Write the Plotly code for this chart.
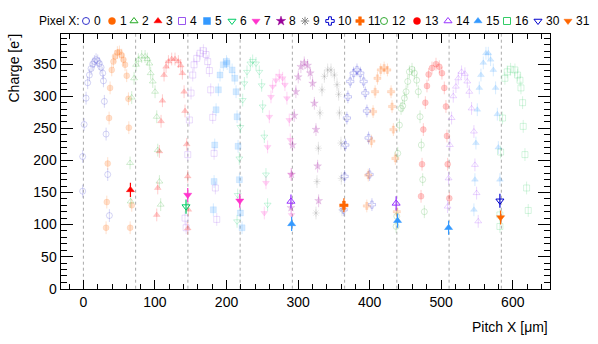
import plotly.graph_objects as go

W, H = 598, 344

# ---------------- data ----------------
pixel_names = ["0", "1", "2", "3", "4", "5", "6", "7", "8", "9",
               "10", "11", "12", "13", "14", "15", "16", "30", "31"]

x_p0 = [-1, -1, 1, 3.7, 6, 8.4, 10.7, 13, 15.4, 17.7, 20, 22.4, 24.7, 27, 28, 29.3, 31.7, 34, 36.3]
y_p0 = [152, 206, 256, 297, 321, 333, 343, 350, 354, 357, 355, 351, 345, 336, 324, 292, 241, 178, 114]
x_p1 = [31.7, 32.7, 34, 35.9, 37.3, 39.6, 42, 44.2, 47.5, 50.3, 53.6, 55.9, 58.2, 60.5, 62.9, 63.5, 65.3, 67.6]
y_p1 = [95, 135, 195, 266, 313, 341, 354, 362, 368, 369, 364, 357, 349, 332, 296, 251, 95, 130]
x_p2 = [65.2, 66, 67.5, 70.8, 73.6, 76.8, 81.5, 86.2, 89.4, 92.2, 94, 96.9, 100.1, 102.5, 103.9, 106.2, 108]
y_p2 = [196, 136, 298, 328, 349, 357, 362, 362, 358, 351, 336, 323, 307, 268, 216, 167, 131]
x_p3 = [102.5, 103.9, 106.2, 108.5, 110.4, 112.7, 115.5, 118.8, 123.4, 128, 132.7, 136, 138.3, 140.7, 142, 144.4, 145.8, 146.7, 145.8]
y_p3 = [115, 157, 214, 261, 293, 333, 346, 354, 358, 358, 354, 348, 336, 307, 277, 225, 175, 123, 94]
x_p4 = [142, 143.5, 145.8, 148.1, 150.4, 152.8, 154.6, 158.4, 163, 167.7, 171.4, 173.7, 176, 177.9, 180.7, 182.6, 184.4, 186.3]
y_p4 = [110, 95, 209, 263, 305, 333, 349, 359, 367, 371, 365, 354, 340, 310, 267, 211, 157, 108]
x_p5 = [181.6, 182.6, 183.5, 185.4, 188.6, 190.9, 195.6, 200, 200.8, 207.8, 211.5, 213.3, 214.7, 216.1, 218, 219.4, 221.7]
y_p5 = [123, 167, 224, 279, 310, 333, 349, 354, 351, 341, 328, 307, 268, 222, 170, 118, 95]
x_p6 = [214.7, 215.6, 217.9, 219.3, 222.6, 224.9, 228.6, 233.3, 236.5, 241.2, 245.8, 249.1, 250.5, 252.8, 255.1, 257.4]
y_p6 = [105, 146, 203, 252, 294, 320, 338, 351, 355, 351, 338, 317, 284, 237, 178, 131]
x_p7 = [252.8, 255.1, 257.4, 259.8, 262.1, 264.4, 269, 273.7, 278.4, 281.6, 284.4, 287.7, 289.1, 290, 290.9]
y_p7 = [118, 165, 221, 268, 299, 315, 325, 332, 328, 318, 297, 263, 232, 178, 115]
x_p8 = [290, 290.9, 292.3, 294.6, 296.9, 300.2, 303.9, 308.6, 313.3, 317, 320.3, 322.7, 325, 327.3, 328.7]
y_p8 = [126, 178, 224, 270, 307, 330, 346, 352, 348, 336, 320, 289, 248, 191, 137]
x_p9 = [325, 326.4, 328.3, 330.6, 333.4, 336.7, 341.3, 346, 350.7, 354.4, 356.7, 357.7, 359.9, 360.4, 361.3]
y_p9 = [118, 167, 219, 274, 310, 331, 341, 341, 333, 318, 303, 274, 227, 172, 123]
x_p10 = [363.6, 365, 366, 368.2, 369.6, 372.9, 377.6, 382.3, 386.9, 391.6, 393.9, 396.2, 398.5, 399.9, 403.2]
y_p10 = [123, 175, 224, 266, 299, 323, 336, 341, 336, 323, 305, 277, 235, 178, 131]
x_p11 = [396, 398, 402.5, 404.8, 407.6, 410.9, 415.5, 420.2, 424.8, 429.9, 431.3, 433.1, 435.9, 438]
y_p11 = [129, 177, 230, 276, 307, 328, 341, 344, 341, 307, 284, 248, 203, 120]
x_p12 = [436.9, 437.9, 439.3, 441.6, 443.9, 446.2, 448.6, 450.9, 453.2, 455.5, 459.2, 462.5, 465.7, 468, 470.4, 472.2, 474.1, 476.4]
y_p12 = [97, 113, 211, 255, 281, 285, 297, 307, 323, 338, 342, 336, 325, 307, 268, 224, 170, 120]
x_p13 = [471.8, 473.2, 475, 477.8, 480.1, 482.4, 487.1, 492.7, 497.3, 501, 504.3, 506.6, 508, 509, 511.3]
y_p13 = [144, 194, 248, 290, 316, 334, 344, 350, 346, 336, 313, 284, 238, 194, 141]
x_p14 = [508.9, 510.3, 512.1, 514.5, 516.8, 520.5, 523.8, 528.4, 533.1, 536.4, 539.2, 542.4, 545.7, 547.1, 549.4, 551.7]
y_p14 = [128, 172, 224, 266, 300, 315, 328, 338, 335, 323, 307, 281, 245, 193, 149, 105]
x_p15 = [545.7, 547.1, 548.5, 550.4, 553.2, 555.5, 558.8, 562.5, 565.8, 569, 572.8, 576, 578.4, 579.8, 582]
y_p15 = [123, 170, 227, 279, 313, 333, 352, 367, 367, 357, 341, 313, 272, 220, 170]
x_p16 = [582, 582, 583, 585.7, 589, 592.2, 596.9, 603, 606.7, 610, 611.4, 613.7, 614.6, 617, 619.3, 621.6]
y_p16 = [97, 115, 213, 266, 328, 338, 342, 341, 333, 325, 313, 290, 253, 209, 157, 122]
x_p30 = []
y_p30 = []
x_p31 = []
y_p31 = []

# highlighted (edge) points, drawn opaque
xs_p3, ys_p3 = [65.7], [154]
xs_p6, ys_p6 = [143.4], [128]
xs_p7, ys_p7 = [145.8, 218.5], [146, 137]
xs_p11, ys_p11 = [364], [130]
xs_p14, ys_p14 = [290, 437], [136, 133]
xs_p15, ys_p15 = [291, 439, 510.3], [101, 106, 95]
xs_p30, ys_p30 = [582], [137]
xs_p31, ys_p31 = [583], [111]

pixel_edges = [0, 73, 146, 219, 292, 365, 438, 511, 584]

# ---------------- styles ----------------
colors = ["#3333cc", "#ff6600", "#22aa22", "#ff0000", "#9955ee", "#3399ff", "#00cc66",
          "#ff33cc", "#990099", "#888888", "#0000cc", "#ff6600", "#33aa33", "#ff0000",
          "#9933ff", "#3399ff", "#33cc66", "#0000cc", "#ff6600"]
symbols = ["circle-open", "circle", "triangle-up-open", "triangle-up", "square-open", "square",
           "triangle-down-open", "triangle-down", "star", "asterisk-open", "cross-open", "cross",
           "circle-open", "circle", "triangle-up-open", "triangle-up", "square-open",
           "triangle-down-open", "triangle-down"]
legend_marker_px = [86, 112, 134, 158, 182, 207, 232, 256, 281, 305, 330, 360, 384, 417, 448, 478, 507, 538, 568]

faint_x = [x_p0, x_p1, x_p2, x_p3, x_p4, x_p5, x_p6, x_p7, x_p8, x_p9, x_p10, x_p11, x_p12, x_p13,
           x_p14, x_p15, x_p16, x_p30, x_p31]
faint_y = [y_p0, y_p1, y_p2, y_p3, y_p4, y_p5, y_p6, y_p7, y_p8, y_p9, y_p10, y_p11, y_p12, y_p13,
           y_p14, y_p15, y_p16, y_p30, y_p31]
solid = {"3": (xs_p3, ys_p3), "6": (xs_p6, ys_p6), "7": (xs_p7, ys_p7), "11": (xs_p11, ys_p11),
         "14": (xs_p14, ys_p14), "15": (xs_p15, ys_p15), "30": (xs_p30, ys_p30), "31": (xs_p31, ys_p31)}


def rgba(h, a):
    h = h.lstrip("#")
    r, g, b = int(h[0:2], 16), int(h[2:4], 16), int(h[4:6], 16)
    return f"rgba({r},{g},{b},{a})"


def marker(sym, col, size):
    if sym.endswith("-open"):
        return dict(symbol=sym, size=size, color=col, line=dict(color=col, width=1))
    return dict(symbol=sym, size=size, color=col, line=dict(color=col, width=0.5))


FONT = "Liberation Sans, Arial, Helvetica, sans-serif"
fig = go.Figure()

for i, name in enumerate(pixel_names):
    c = rgba(colors[i], 0.2)
    if faint_x[i]:
        fig.add_trace(go.Scatter(
            x=faint_x[i], y=faint_y[i], mode="markers",
            marker=marker(symbols[i], c, 6),
            error_y=dict(type="constant", value=10, color=c, thickness=1, width=0),
            showlegend=False, hoverinfo="skip"))

for i, name in enumerate(pixel_names):
    if name in solid:
        sx, sy = solid[name]
        fig.add_trace(go.Scatter(
            x=sx, y=sy, mode="markers",
            marker=marker(symbols[i], colors[i], 7),
            error_y=dict(type="constant", value=11, color=colors[i], thickness=1.2, width=0),
            showlegend=False, hoverinfo="skip"))

# legend markers on a pixel-space overlay axis
LEG_Y = 21
for i, name in enumerate(pixel_names):
    fig.add_trace(go.Scatter(
        x=[legend_marker_px[i]], y=[LEG_Y], xaxis="x2", yaxis="y2", mode="markers",
        marker=marker(symbols[i], colors[i], 7), showlegend=False, hoverinfo="skip"))

annotations = [dict(text="Pixel X:", x=37 / W, y=1 - LEG_Y / H, xref="paper", yref="paper",
                    xanchor="left", yanchor="middle", showarrow=False,
                    font=dict(family=FONT, size=12, color="black"))]
for i, name in enumerate(pixel_names):
    annotations.append(dict(text=name, x=(legend_marker_px[i] + 6) / W, y=1 - LEG_Y / H,
                            xref="paper", yref="paper", xanchor="left", yanchor="middle",
                            showarrow=False, font=dict(family=FONT, size=12, color="black")))
annotations.append(dict(text="Charge [e<sup>-</sup>]", x=14 / W, y=1 - 32 / H, xref="paper", yref="paper",
                        xanchor="center", yanchor="top", textangle=-90, showarrow=False,
                        font=dict(family=FONT, size=14, color="black")))
annotations.append(dict(text="Pitch X [\u03bcm]", x=550 / W, y=1 - 327 / H, xref="paper", yref="paper",
                        xanchor="right", yanchor="middle", showarrow=False,
                        font=dict(family=FONT, size=14, color="black")))

shapes = [dict(type="line", xref="x", yref="y domain", x0=e, x1=e, y0=0, y1=1,
               line=dict(color="#aaaaaa", width=1, dash="3px,3px"), layer="below")
          for e in pixel_edges]

fig.update_layout(
    width=W, height=H, margin=dict(l=0, r=0, t=0, b=0),
    paper_bgcolor="white", plot_bgcolor="rgba(0,0,0,0)",
    font=dict(family=FONT, size=13, color="black"),
    showlegend=False,
    xaxis=dict(domain=[60.5 / W, 550 / W], range=[-32, 652], tick0=0, dtick=100,
               ticks="inside", ticklen=9, tickwidth=1, tickcolor="black",
               minor=dict(ticks="inside", ticklen=5, dtick=20, tick0=0, tickcolor="black"),
               showline=True, linecolor="black", linewidth=1, mirror="ticks",
               showgrid=False, zeroline=False, automargin=False,
               tickfont=dict(family=FONT, size=14)),
    yaxis=dict(domain=[(H - 288.7) / H, (H - 34) / H], range=[0, 397], tick0=0, dtick=50,
               ticks="inside", ticklen=12, tickwidth=1, tickcolor="black",
               minor=dict(ticks="inside", ticklen=6, dtick=10, tick0=0, tickcolor="black"),
               showline=True, linecolor="black", linewidth=1, mirror="ticks",
               showgrid=False, zeroline=False, automargin=False,
               tickfont=dict(family=FONT, size=14)),
    xaxis2=dict(domain=[0, 1], range=[0, W], anchor="y2", visible=False, fixedrange=True),
    yaxis2=dict(domain=[0, 1], range=[H, 0], anchor="x2", visible=False, fixedrange=True),
    annotations=annotations,
    shapes=shapes,
)

fig.write_html("out.html")
